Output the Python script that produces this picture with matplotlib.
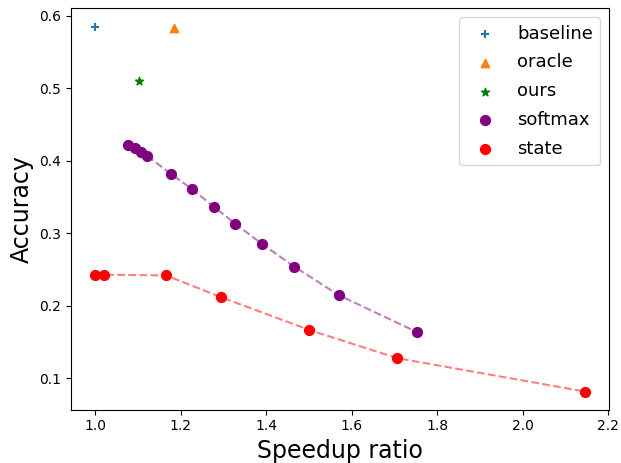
import matplotlib
matplotlib.use("Agg")
import matplotlib.pyplot as plt

# single reference points
baseline_x = [1.0]
baseline_y = [0.585]
oracle_x = [1.184]
oracle_y = [0.583]
ours_x = [1.102]
ours_y = [0.510]

# softmax sweep
softmax_x = [1.077, 1.093, 1.107, 1.121, 1.177, 1.226, 1.277, 1.328, 1.391, 1.466, 1.569, 1.752]
softmax_y = [0.422, 0.418, 0.412, 0.407, 0.382, 0.361, 0.337, 0.313, 0.285, 0.254, 0.215, 0.164]

# state sweep
state_x = [1.0, 1.021, 1.166, 1.294, 1.500, 1.706, 2.145]
state_y = [0.243, 0.243, 0.242, 0.212, 0.167, 0.128, 0.082]

fig, ax = plt.subplots(figsize=(6.21, 4.63), dpi=100)
fig.subplots_adjust(left=0.114, right=0.981, top=0.982, bottom=0.115)

ax.scatter(baseline_x, baseline_y, marker="+", label="baseline")
ax.scatter(oracle_x, oracle_y, marker="^", label="oracle")
ax.scatter(ours_x, ours_y, marker="*", color="green", label="ours")

ax.plot(softmax_x, softmax_y, "--", color="purple", alpha=0.5)
ax.scatter(softmax_x, softmax_y, color="purple", s=50, label="softmax")
ax.plot(state_x, state_y, "--", color="red", alpha=0.5)
ax.scatter(state_x, state_y, color="red", s=50, label="state")

ax.set_xlabel("Speedup ratio", fontsize=17)
ax.set_ylabel("Accuracy", fontsize=17)
ax.legend(loc="upper right", fontsize=13, labelspacing=0.6)

plt.savefig("out.png")
